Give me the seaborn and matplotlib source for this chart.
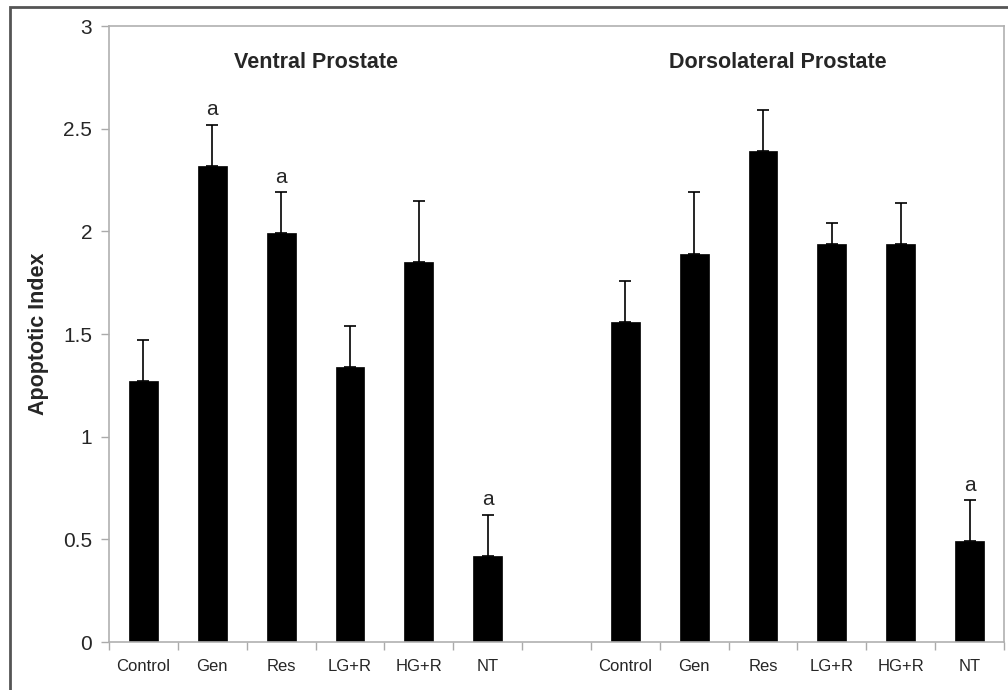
import matplotlib
matplotlib.use("Agg")
import matplotlib.pyplot as plt
import seaborn as sns
import pandas as pd
import numpy as np
from matplotlib.patches import Rectangle

treatments = ["Control", "Gen", "Res", "LG+R", "HG+R", "NT"]
ventral_mean = [1.27, 2.32, 1.99, 1.34, 1.85, 0.42]
ventral_err = [0.20, 0.20, 0.20, 0.20, 0.30, 0.20]
dorso_mean = [1.56, 1.89, 2.39, 1.94, 1.94, 0.49]
dorso_err = [0.20, 0.30, 0.20, 0.10, 0.20, 0.20]
ventral_sig = ["", "a", "a", "", "", "a"]
dorso_sig = ["", "", "", "", "", "a"]
region_titles = ["Ventral Prostate", "Dorsolateral Prostate"]
y_ticks = [0, 0.5, 1, 1.5, 2, 2.5, 3]
y_tick_labels = ["0", "0.5", "1", "1.5", "2", "2.5", "3"]

sns.set_theme(style="white")
plt.rcParams['font.family'] = ['Liberation Sans', 'DejaVu Sans']

slots = [f"V_{t}" for t in treatments] + ["gap"] + [f"D_{t}" for t in treatments]
df = pd.DataFrame({
    "slot": [f"V_{t}" for t in treatments] + [f"D_{t}" for t in treatments],
    "value": ventral_mean + dorso_mean,
})
errs = ventral_err + dorso_err
sigs = ventral_sig + dorso_sig

fig = plt.figure(figsize=(10.08, 6.9), dpi=100)
ax = fig.add_axes([109/1008, 48/690, 895/1008, 616/690])

sns.barplot(data=df, x="slot", y="value", order=slots, color="black",
            width=0.42, saturation=1, edgecolor="black", linewidth=0.5, ax=ax)

pos = {s: i for i, s in enumerate(slots)}
xs = [pos[s] for s in df["slot"]]
ax.errorbar(xs, df["value"], yerr=[np.zeros(len(errs)), errs], fmt="none",
            ecolor="black", elinewidth=1.2, capsize=4, capthick=1.2)

for x, v, e, s in zip(xs, df["value"], errs, sigs):
    if s:
        ax.annotate(s, (x, v + e), xytext=(0, 4), textcoords="offset points",
                    ha="center", va="bottom", fontsize=15)

ax.set_xlim(-0.5, len(slots) - 0.5)
ax.set_ylim(0, 3)
ax.set_yticks(y_ticks)
ax.set_yticklabels(y_tick_labels, fontsize=15)

# Excel style: tick marks at category boundaries, labels at centres
ax.set_xticks(np.arange(-0.5, len(slots) + 0.5, 1.0))
ax.set_xticklabels([])
ax.set_xticks(range(len(slots)), minor=True)
ax.set_xticklabels(treatments + [""] + treatments, minor=True, fontsize=12)
ax.tick_params(axis="x", which="major", length=6, width=1, color="#aaaaaa", direction="out", bottom=True)
ax.tick_params(axis="x", which="minor", length=0, pad=12)
ax.tick_params(axis="y", length=6, width=1, color="#aaaaaa", direction="out", left=True, pad=6)
ax.set_xlabel("")
ax.set_ylabel("Apoptotic Index", fontsize=15.5, fontweight="bold", labelpad=10)

for sp in ax.spines.values():
    sp.set_visible(True)
    sp.set_color("#b0b0b0")
    sp.set_linewidth(1.2)

ax.text(2.51, 2.82, region_titles[0], ha="center", va="center", fontsize=15.5, fontweight="bold")
ax.text(9.22, 2.82, region_titles[1], ha="center", va="center", fontsize=15.5, fontweight="bold")

fig.patches.append(Rectangle((10/1008, -0.05), 1.1, 0.05 + (690 - 7)/690,
                             transform=fig.transFigure, fill=False,
                             edgecolor="#555555", linewidth=2))

fig.savefig("out.png", dpi=100)
